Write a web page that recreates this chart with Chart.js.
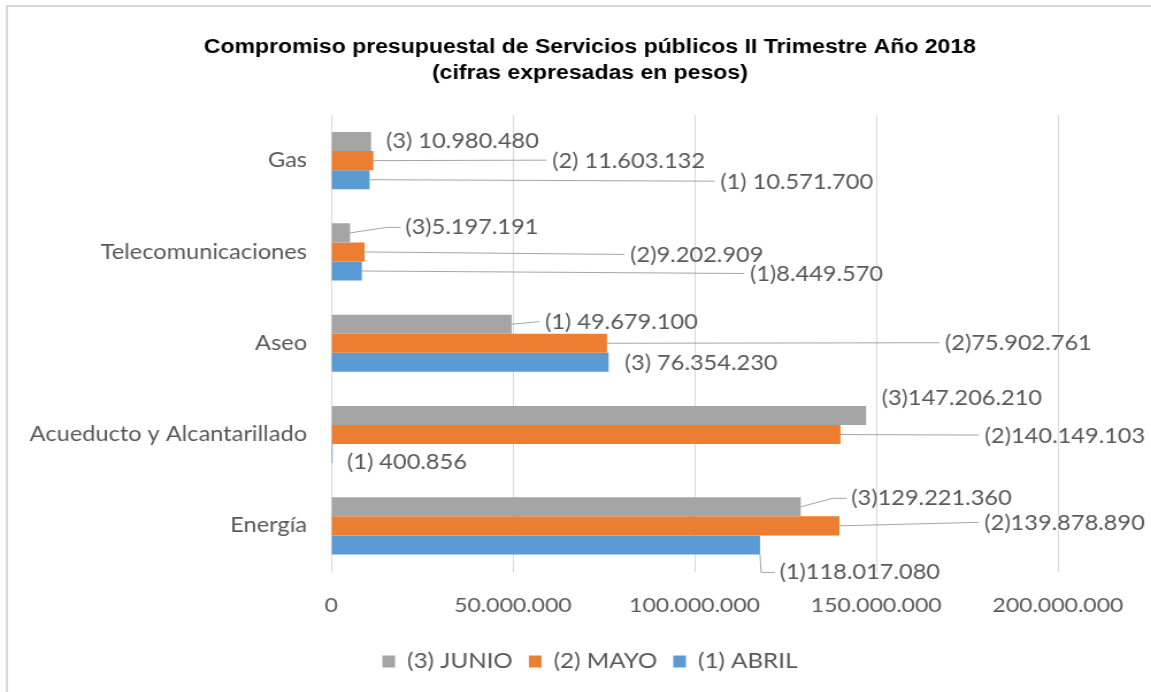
<!DOCTYPE html>
<html>
<head>
<meta charset="utf-8">
<script src="https://cdn.jsdelivr.net/npm/chart.js@4/dist/chart.umd.min.js"></script>
<style>
  html, body { margin: 0; padding: 0; background: #ffffff; overflow: hidden; }
  #wrap { width: 1151px; height: 692px; overflow: hidden; position: relative; }
  #c { position: absolute; left: 0; top: 0; transform: scaleX(1.1499); transform-origin: 0 0; }
</style>
</head>
<body>
<div id="wrap"><canvas id="c" width="1001" height="692"></canvas></div>
<script>
// ---- data ----
const categories = ['Gas', 'Telecomunicaciones', 'Aseo', 'Acueducto y Alcantarillado', 'Energía'];
const seriesNames = ['(3) JUNIO', '(2) MAYO', '(1) ABRIL'];
const junio = [10980480, 5197191, 49679100, 147206210, 129221360];
const mayo  = [11603132, 9202909, 75902761, 140149103, 139878890];
const abril = [10571700, 8449570, 76354230, 400856, 118017080];
const junioLabels = ['(3) 10.980.480', '(3)5.197.191', '(1) 49.679.100', '(3)147.206.210', '(3)129.221.360'];
const mayoLabels  = ['(2) 11.603.132', '(2)9.202.909', '(2)75.902.761', '(2)140.149.103', '(2)139.878.890'];
const abrilLabels = ['(1) 10.571.700', '(1)8.449.570', '(3) 76.354.230', '(1) 400.856', '(1)118.017.080'];
const xTickValues = [0, 50000000, 100000000, 150000000, 200000000];
const titleLines = ['Compromiso presupuestal de Servicios públicos II Trimestre Año 2018', '(cifras expresadas en pesos)'];

// ---- label placement (offsets from bar end / bar centre, chart px) ----
// [dx, dy, leader] leader: 0 none, 1 straight, 2 elbow, 3 down-then-right
const labelLayout = [
  [[13, 0, 0], [48, -5.5, 2], [29, -1.5, 1], [13.5, -17.5, 0], [44, -8.5, 2]],
  [[155.5, 0.5, 1], [231, 3.5, 1], [294, 0.5, 1], [125.5, 1.5, 1], [126, -2.5, 1]],
  [[305, 2.5, 1], [337.5, 3.5, 1], [14, 1.5, 0], [12.5, 8.5, 0], [17, 27.5, 3]]
];

const colors = ['#A5A5A5', '#ED7D31', '#5B9BD5'];
const TEXT = '#595959';
const FONT = 'Lato';

function fmt(v) { return String(v).replace(/\B(?=(\d{3})+(?!\d))/g, '.'); }

const labelSets = [junioLabels, mayoLabels, abrilLabels];

const frame = {
  id: 'frame',
  beforeDraw(chart) {
    const ctx = chart.ctx;
    ctx.save();
    ctx.fillStyle = '#ffffff';
    ctx.fillRect(0, 0, chart.width, chart.height);
    ctx.strokeStyle = '#D9D9D9';
    ctx.lineWidth = 2;
    ctx.strokeRect(6, 6, chart.width + 20, chart.height + 20);
    ctx.restore();
  }
};

const dataLabels = {
  id: 'dataLabels',
  afterDatasetsDraw(chart) {
    const ctx = chart.ctx;
    ctx.save();
    ctx.font = '20.5px ' + FONT;
    ctx.textAlign = 'left';
    ctx.textBaseline = 'middle';
    chart.data.datasets.forEach((ds, i) => {
      const meta = chart.getDatasetMeta(i);
      meta.data.forEach((el, j) => {
        const [dx, dy, leader] = labelLayout[i][j];
        const tx = el.x + dx, ty = el.y + dy;
        if (leader) {
          ctx.strokeStyle = '#A6A6A6';
          ctx.lineWidth = 1;
          ctx.beginPath();
          if (leader === 1) {
            ctx.moveTo(el.x, el.y);
            ctx.lineTo(tx - 5, ty - 1);
          } else if (leader === 2) {
            ctx.moveTo(el.x, el.y);
            ctx.lineTo(tx - 16, ty);
            ctx.lineTo(tx - 4, ty);
          } else {
            ctx.moveTo(el.x, el.y + el.height / 2);
            ctx.lineTo(el.x + 1, ty);
            ctx.lineTo(tx - 4, ty);
          }
          ctx.stroke();
        }
        ctx.fillStyle = TEXT;
        ctx.fillText(labelSets[i][j], tx, ty);
      });
    });
    ctx.restore();
  }
};

new Chart(document.getElementById('c'), {
  type: 'bar',
  data: {
    labels: categories,
    datasets: [
      { label: seriesNames[0], data: junio, backgroundColor: colors[0], borderWidth: 0 },
      { label: seriesNames[1], data: mayo,  backgroundColor: colors[1], borderWidth: 0 },
      { label: seriesNames[2], data: abril, backgroundColor: colors[2], borderWidth: 0 }
    ]
  },
  options: {
    indexAxis: 'y',
    responsive: false,
    devicePixelRatio: 1,
    animation: false,
    categoryPercentage: 0.626,
    barPercentage: 1.0,
    layout: { padding: { left: 25, right: 0, top: 0, bottom: 10 } },
    scales: {
      x: {
        type: 'linear',
        min: 0,
        max: 200000000,
        afterBuildTicks(s) { s.ticks = xTickValues.map(v => ({ value: v })); },
        afterFit(s) { s.height = 65.5; },
        grid: { color: '#D9D9D9', lineWidth: 1, drawTicks: false },
        border: { display: false },
        ticks: {
          padding: 22,
          color: TEXT,
          font: { family: FONT, size: 20 },
          callback: v => fmt(v)
        }
      },
      y: {
        type: 'category',
        afterFit(s) { s.width = 263; },
        grid: { display: false, drawTicks: false },
        border: { display: false },
        ticks: { padding: 21, color: TEXT, font: { family: FONT, size: 20.5 } }
      },
      yR: {
        type: 'category',
        position: 'right',
        labels: categories,
        grid: { display: false, drawTicks: false },
        border: { display: false },
        ticks: { display: false },
        afterFit(s) { s.width = 81; }
      }
    },
    plugins: {
      title: {
        display: true,
        text: titleLines,
        color: '#000000',
        font: { family: 'Liberation Sans', size: 20, weight: 'bold', lineHeight: 1.3 },
        padding: { top: 34, bottom: 29 }
      },
      legend: {
        position: 'bottom',
        labels: {
          color: TEXT,
          font: { family: FONT, size: 21 },
          boxWidth: 11,
          boxHeight: 12,
          padding: 14
        }
      },
      tooltip: { enabled: false }
    }
  },
  plugins: [frame, dataLabels]
});
</script>
</body>
</html>
